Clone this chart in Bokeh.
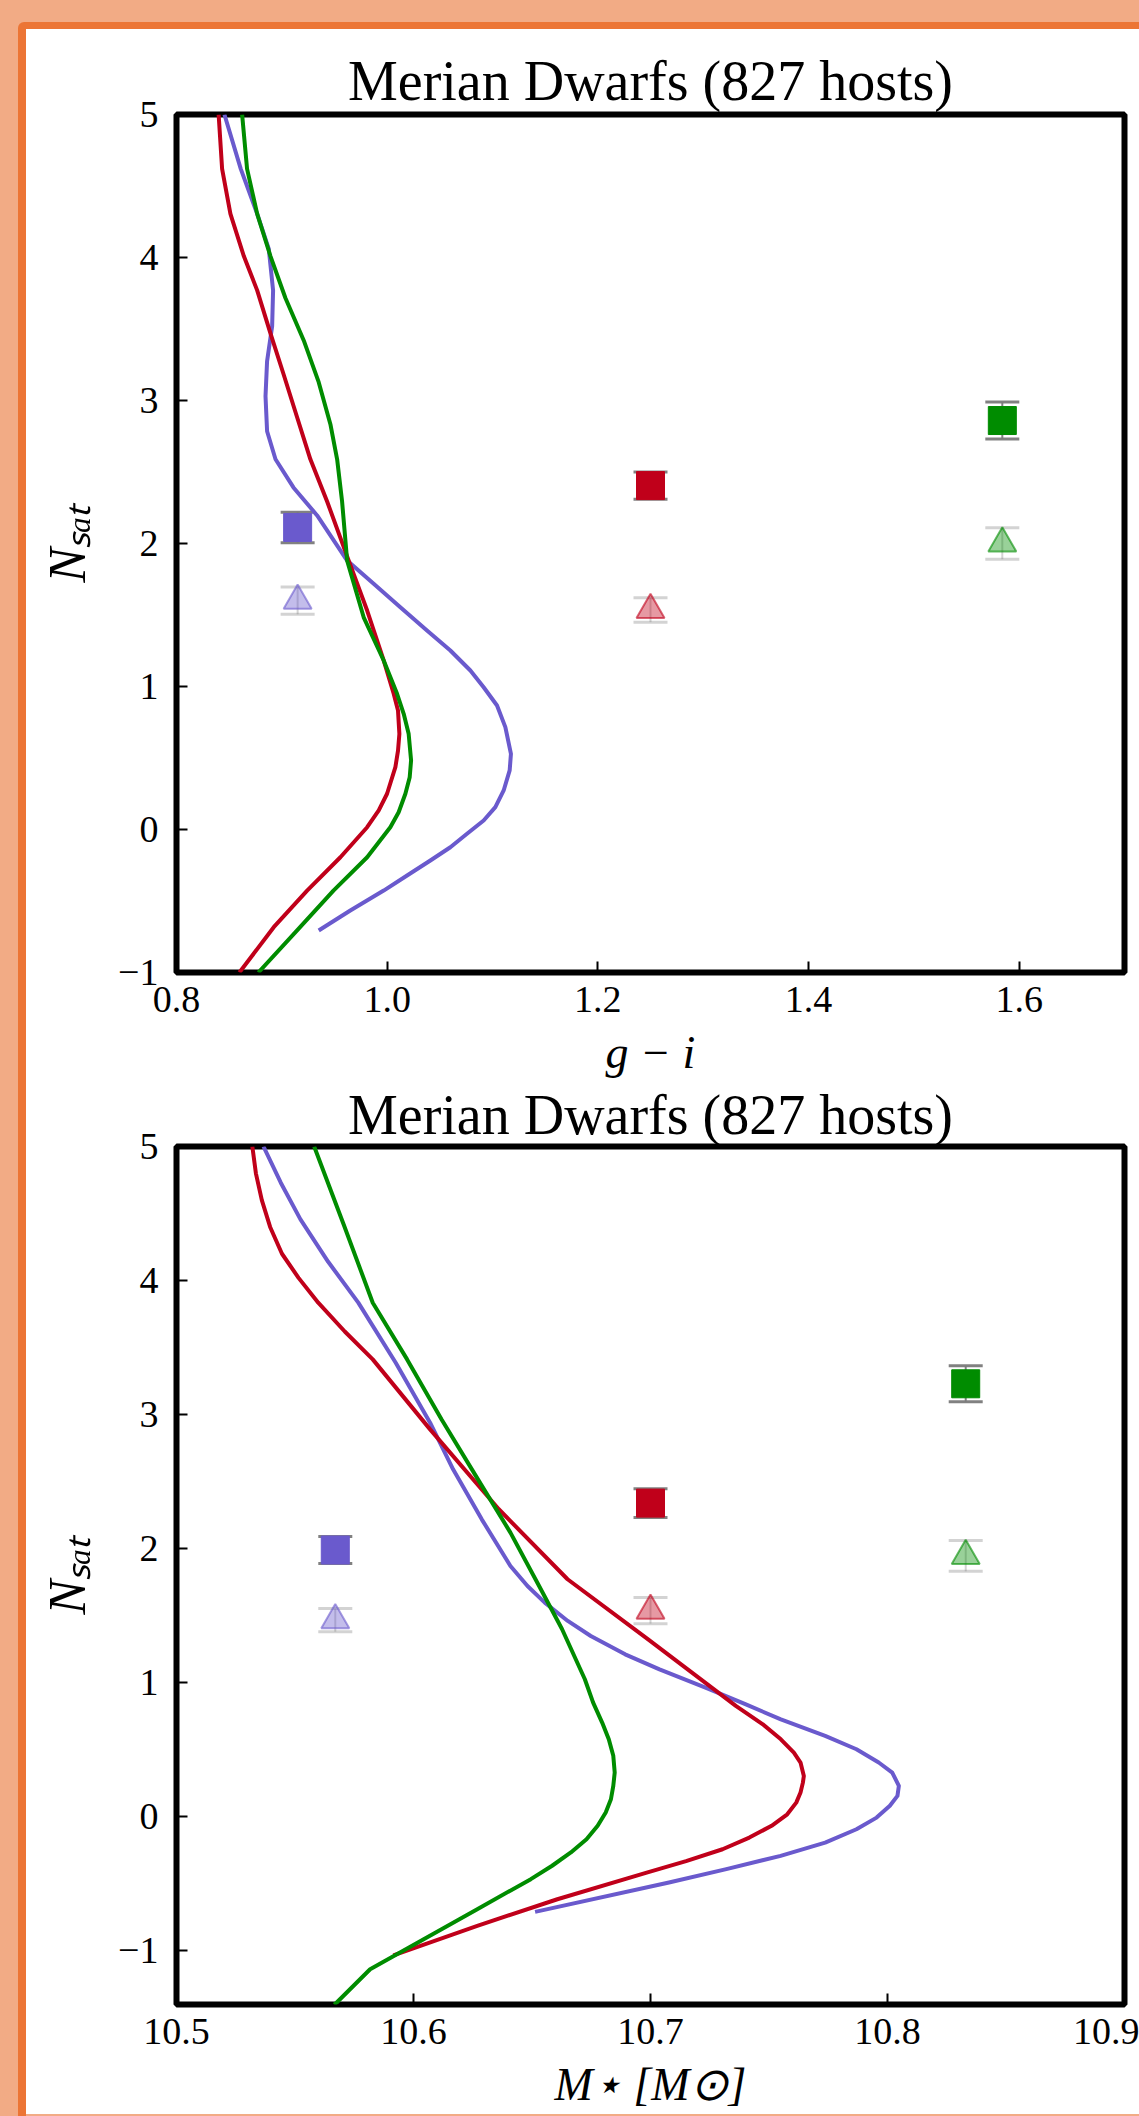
from bokeh.plotting import figure
from bokeh.models import ColumnDataSource, Whisker, TeeHead, FixedTicker, Spacer, Range1d
from bokeh.layouts import column, row
from bokeh.embed import file_html
from bokeh.resources import INLINE

# ---------------- data ----------------
TITLE = "Merian Dwarfs (827 hosts)"
GI_XLABEL = "g \u2212 i"
MS_XLABEL = "M\u22c6 [M\u2299]"
YLABEL = "N\u209b\u2090\u209c"

# top panel: g - i
gi_bins = [0.915, 1.250, 1.584]
gi_sq = [2.112, 2.405, 2.860]
gi_sq_err = [0.107, 0.095, 0.130]
gi_tri = [1.600, 1.535, 2.000]
gi_tri_err = [0.095, 0.085, 0.110]

gi_blue_x = [0.8455, 0.861, 0.8766, 0.8876, 0.8917, 0.8908, 0.886, 0.8845, 0.886, 0.894, 0.911, 0.9335,
             0.962, 0.9872, 1.0125, 1.0378, 1.060, 1.079, 1.0916, 1.1043, 1.1122, 1.1175, 1.1163, 1.1106,
             1.1027, 1.0916, 1.0758, 1.060, 1.041, 1.0189, 0.9967, 0.965, 0.935]
gi_blue_y = [5.0, 4.62, 4.305, 4.06, 3.77, 3.52, 3.275, 3.03, 2.785, 2.589, 2.392, 2.196,
             1.881, 1.718, 1.555, 1.392, 1.252, 1.112, 0.995, 0.867, 0.716, 0.529, 0.413, 0.273,
             0.156, 0.063, -0.030, -0.124, -0.217, -0.322, -0.427, -0.566, -0.706]

gi_red_x = [0.840, 0.8433, 0.8512, 0.8639, 0.8766, 0.8892, 0.9018, 0.9145, 0.9271, 0.943, 0.962, 0.981,
            0.9888, 0.9967, 1.0062, 1.0103, 1.0116, 1.0103, 1.0078, 0.9999, 0.992, 0.981, 0.9683, 0.9556,
            0.924, 0.8923, 0.8597]
gi_red_y = [5.0, 4.62, 4.305, 4.01, 3.77, 3.47, 3.18, 2.883, 2.589, 2.294, 1.910, 1.531,
            1.357, 1.182, 0.949, 0.832, 0.669, 0.552, 0.436, 0.250, 0.133, 0.016, -0.089, -0.194,
            -0.427, -0.683, -1.0]

gi_green_x = [0.8623, 0.867, 0.8766, 0.8892, 0.9034, 0.9208, 0.935, 0.9461, 0.9525, 0.9572, 0.962, 0.9777,
              0.9967, 1.0094, 1.0157, 1.0204, 1.0227, 1.0214, 1.0173, 1.0109, 1.003, 0.992, 0.981, 0.949,
              0.9145, 0.8777]
gi_green_y = [5.0, 4.62, 4.305, 4.01, 3.717, 3.42, 3.128, 2.834, 2.589, 2.294, 1.880, 1.484,
              1.182, 0.949, 0.809, 0.669, 0.483, 0.366, 0.250, 0.121, 0.016, -0.089, -0.194, -0.427,
              -0.706, -1.0]

# bottom panel: stellar mass
ms_bins = [10.567, 10.700, 10.833]
ms_sq = [1.990, 2.340, 3.230]
ms_sq_err = [0.100, 0.108, 0.134]
ms_tri = [1.467, 1.538, 1.946]
ms_tri_err = [0.086, 0.097, 0.115]

ms_blue_x = [10.5367, 10.5440, 10.5523, 10.5640, 10.5767, 10.5925, 10.607, 10.6167, 10.6288, 10.6409,
             10.6481, 10.6554, 10.6651, 10.6748, 10.6893, 10.7038, 10.7232, 10.740, 10.755, 10.7737,
             10.7869, 10.7963, 10.802, 10.8048, 10.8042, 10.801, 10.7954, 10.7869, 10.7737, 10.7549,
             10.7320, 10.7078, 10.6513]
ms_blue_y = [5.0, 4.73, 4.456, 4.14, 3.835, 3.387, 2.940, 2.592, 2.219, 1.871,
             1.722, 1.598, 1.461, 1.349, 1.212, 1.100, 0.964, 0.840, 0.727, 0.604,
             0.504, 0.405, 0.330, 0.231, 0.156, 0.082, -0.006, -0.093, -0.192, -0.291,
             -0.390, -0.490, -0.709]

ms_red_x = [10.532, 10.5335, 10.5360, 10.5395, 10.5445, 10.5515, 10.5598, 10.5710, 10.5828, 10.607,
            10.636, 10.665, 10.699, 10.736, 10.7474, 10.755, 10.7605, 10.7633, 10.7647, 10.7643,
            10.7633, 10.7615, 10.7577, 10.7511, 10.7417, 10.7304, 10.7150, 10.6984, 10.6607, 10.6269,
            10.5915]
ms_red_y = [5.0, 4.80, 4.60, 4.40, 4.20, 4.02, 3.835, 3.62, 3.412, 2.890,
            2.294, 1.772, 1.324, 0.827, 0.690, 0.578, 0.479, 0.405, 0.305, 0.255,
            0.181, 0.106, 0.019, -0.067, -0.155, -0.242, -0.330, -0.416, -0.615, -0.813,
            -1.033]

ms_green_x = [10.5581, 10.5705, 10.5828, 10.5973, 10.6118, 10.6263, 10.6409, 10.653, 10.6627, 10.6723,
              10.6758, 10.6796, 10.6824, 10.6843, 10.6849, 10.6843, 10.6833, 10.6811, 10.6777, 10.673,
              10.6664, 10.6585, 10.6495, 10.6269, 10.6043, 10.5817, 10.5676, 10.5665]
ms_green_y = [5.0, 4.42, 3.835, 3.412, 2.965, 2.543, 2.120, 1.722, 1.399, 1.026,
              0.852, 0.703, 0.578, 0.455, 0.330, 0.231, 0.131, 0.032, -0.067, -0.167,
              -0.266, -0.365, -0.465, -0.689, -0.913, -1.137, -1.385, -1.40]

gi_xticks = [0.8, 1.0, 1.2, 1.4, 1.6]
gi_xlabels = ["0.8", "1.0", "1.2", "1.4", "1.6"]
ms_xticks = [10.5, 10.6, 10.7, 10.8, 10.9]
ms_xlabels = ["10.5", "10.6", "10.7", "10.8", "10.9"]
yticks = [-1, 0, 1, 2, 3, 4, 5]
ylabels = ["\u22121", "0", "1", "2", "3", "4", "5"]

# ---------------- style ----------------
BLUE = "#6A5ACD"
RED = "#C0001A"
GREEN = "#008C00"
COLORS = [BLUE, RED, GREEN]
SERIF = "Liberation Serif"
LIGHT = "#F2AB85"
ORANGE = "#EC7535"


def make_fig(top, bottom, xr, yr, xticks, xlabels, xlabel, title_standoff, xlab_std):
    p = figure(frame_width=948, frame_height=858, x_range=Range1d(*xr), y_range=Range1d(*yr),
               output_backend="svg", toolbar_location=None, tools="",
               min_border_left=150, min_border_right=15,
               min_border_top=top, min_border_bottom=bottom)
    p.background_fill_color = "white"
    p.border_fill_color = "white"
    p.outline_line_color = "black"
    p.outline_line_width = 6
    p.outline_line_alpha = 1.0
    p.xgrid.visible = False
    p.ygrid.visible = False
    p.title.text = TITLE
    p.title.align = "center"
    p.title.text_font = SERIF
    p.title.text_font_size = "56px"
    p.title.text_font_style = "normal"
    p.title.text_color = "black"
    p.title.standoff = title_standoff
    specs = [(p.xaxis[0], xticks, xlabels, xlabel, 14, xlab_std, "46px"),
             (p.yaxis[0], yticks, ylabels, YLABEL, 18, 19, "52px")]
    for ax, ticks, labels, lab, std, lstd, lsize in specs:
        ax.ticker = FixedTicker(ticks=ticks)
        ax.major_label_overrides = {t: l for t, l in zip(ticks, labels)}
        ax.axis_line_color = None
        ax.major_tick_in = 11
        ax.major_tick_out = 0
        ax.major_tick_line_width = 2
        ax.major_tick_line_color = "black"
        ax.minor_tick_line_color = None
        ax.major_label_text_font = SERIF
        ax.major_label_text_font_size = "38px"
        ax.major_label_text_color = "black"
        ax.major_label_standoff = std
        ax.axis_label = lab
        ax.axis_label_text_font = SERIF
        ax.axis_label_text_font_size = lsize
        ax.axis_label_text_font_style = "italic"
        ax.axis_label_text_color = "black"
        ax.axis_label_standoff = lstd
    return p


def add_points(p, xs, sq, sq_err, tri, tri_err):
    tri_src = ColumnDataSource(dict(x=xs, y=tri, lo=[a - b for a, b in zip(tri, tri_err)],
                                    hi=[a + b for a, b in zip(tri, tri_err)], c=COLORS))
    sq_src = ColumnDataSource(dict(x=xs, y=sq, lo=[a - b for a, b in zip(sq, sq_err)],
                                   hi=[a + b for a, b in zip(sq, sq_err)], c=COLORS))
    wt = Whisker(source=tri_src, base="x", lower="lo", upper="hi", dimension="height",
                 line_color="#808080", line_alpha=0.35, line_width=2, level="underlay",
                 upper_head=TeeHead(size=34, line_width=3, line_color="#808080", line_alpha=0.35),
                 lower_head=TeeHead(size=34, line_width=3, line_color="#808080", line_alpha=0.35))
    ws = Whisker(source=sq_src, base="x", lower="lo", upper="hi", dimension="height",
                 line_color="#7a7a7a", line_alpha=0.95, line_width=2, level="underlay",
                 upper_head=TeeHead(size=34, line_width=3, line_color="#7a7a7a", line_alpha=0.95),
                 lower_head=TeeHead(size=34, line_width=3, line_color="#7a7a7a", line_alpha=0.95))
    p.add_layout(wt)
    p.add_layout(ws)
    p.scatter("x", "y", source=tri_src, marker="triangle", size=28, fill_color="c", fill_alpha=0.4,
              line_color="c", line_alpha=0.6, line_width=2)
    p.scatter("x", "y", source=sq_src, marker="square", size=28, fill_color="c", line_color="c")


def add_curves(p, curves):
    for (xs, ys), col in zip(curves, COLORS):
        p.line(xs, ys, line_color=col, line_width=4, line_join="round")


# ---------------- top panel ----------------
p1 = make_fig(85, 104, (0.8, 1.7), (-1, 5), gi_xticks, gi_xlabels, GI_XLABEL, 5, 12)
add_points(p1, gi_bins, gi_sq, gi_sq_err, gi_tri, gi_tri_err)
add_curves(p1, [(gi_blue_x, gi_blue_y), (gi_red_x, gi_red_y), (gi_green_x, gi_green_y)])

# ---------------- bottom panel ----------------
p2 = make_fig(64, 110, (10.5, 10.9), (-1.4, 5), ms_xticks, ms_xlabels, MS_XLABEL, 2, 12)
add_points(p2, ms_bins, ms_sq, ms_sq_err, ms_tri, ms_tri_err)
add_curves(p2, [(ms_blue_x, ms_blue_y), (ms_red_x, ms_red_y), (ms_green_x, ms_green_y)])

layout = column(
    Spacer(width=1139, height=22, styles={"background-color": LIGHT}),
    row(
        Spacer(width=18, height=2094, styles={"background-color": LIGHT}),
        column(
            Spacer(width=1121, height=7, styles={"background-color": ORANGE,
                                                 "border-top-left-radius": "6px"}),
            row(Spacer(width=8, height=2087, styles={"background-color": ORANGE}),
                column(p1, p2, styles={"background-color": "white"})),
        ),
    ),
    styles={"background-color": LIGHT},
)

open("out.html", "w").write(file_html(layout, INLINE, title="Merian Dwarfs"))
